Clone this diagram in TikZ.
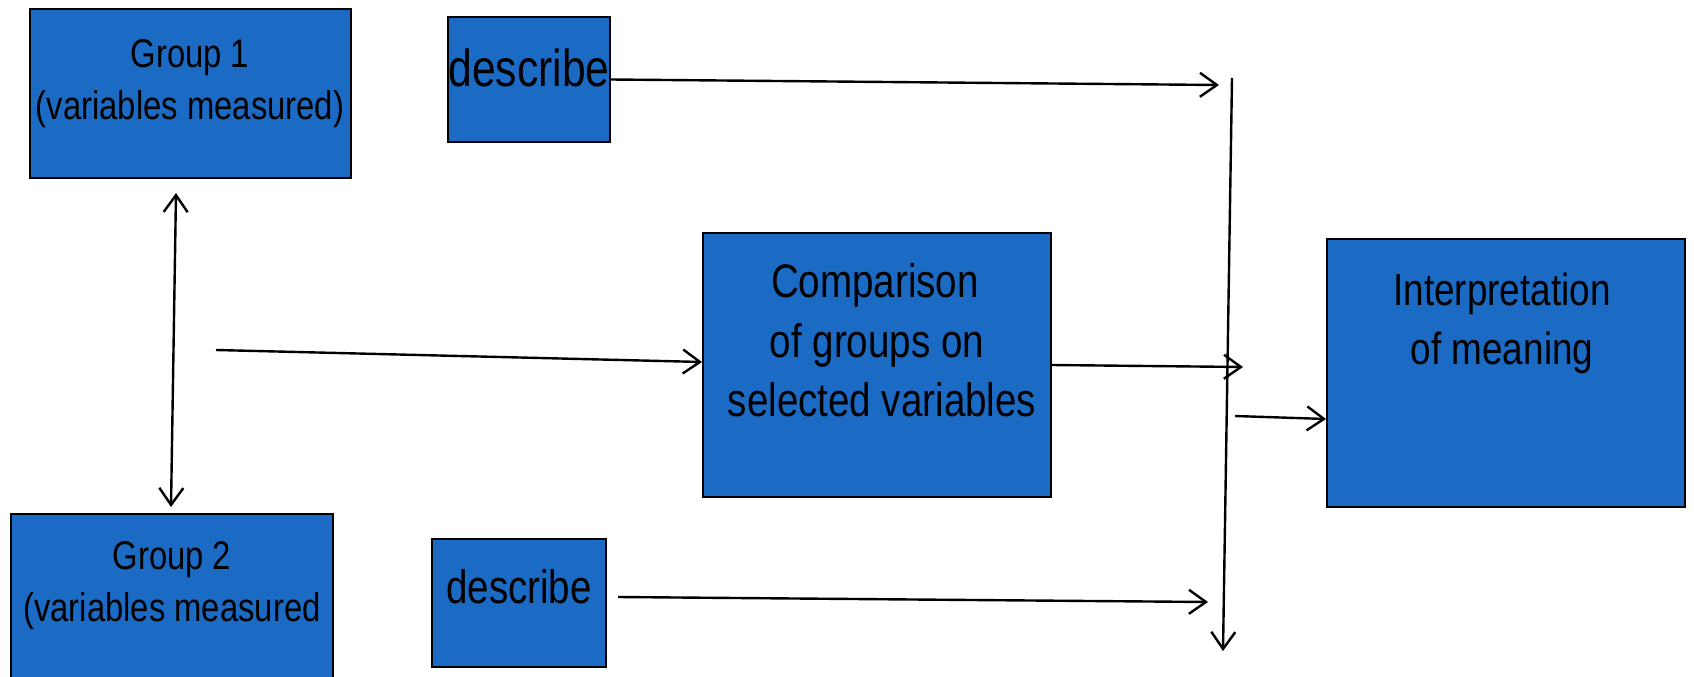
\documentclass[tikz,border=0pt]{standalone}
\usepackage{fontspec}
\setmainfont{Liberation Sans}[FakeStretch=0.82]
\usetikzlibrary{arrows.meta}
\definecolor{boxblue}{RGB}{27,106,196}
\tikzset{
  box/.style={draw=black, line width=2pt, fill=boxblue, inner sep=0pt},
  lbl/.style={font=\fontsize{#1}{#1}\selectfont, anchor=base, inner sep=0pt, text=black},
  conn/.style={draw=black, line width=2.4pt, -{Straight Barb[length=17pt,width=24pt,line width=2.4pt]}},
  bothconn/.style={draw=black, line width=2.4pt, {Straight Barb[length=17pt,width=24pt,line width=2.4pt]}-{Straight Barb[length=17pt,width=24pt,line width=2.4pt]}},
}
\begin{document}
\begin{tikzpicture}[x=1pt, y=-1pt]
\useasboundingbox (0,0) rectangle (1694,677);
\clip (0,0) rectangle (1694,677);

% boxes
\node[box, minimum width=321pt, minimum height=169pt] (g1) at (190.5,93.5) {};
\node[box, minimum width=162pt, minimum height=125pt] (d1) at (529,79.5) {};
\node[box, minimum width=348pt, minimum height=264pt] (cmp) at (877,365) {};
\node[box, minimum width=358pt, minimum height=268pt] (interp) at (1506,373) {};
\node[box, minimum width=322pt, minimum height=186pt] (g2) at (172,607) {};
\node[box, minimum width=174pt, minimum height=128pt] (d2) at (519,603) {};

% box texts
\node[lbl=40] (g1a) at (190,67) {Group 1};
\node[lbl=40] (g1b) at (190,119) {(variables measured)};
\node[lbl=52] (d1t) at (529,86) {describe};
\node[lbl=47] (cmpa) at (875,297) {Comparison};
\node[lbl=47] (cmpb) at (877,357) {of groups on};
\node[lbl=47] (cmpc) at (882,416) {selected variables};
\node[lbl=45] (inta) at (1502,305) {Interpretation};
\node[lbl=45] (intb) at (1502,364) {of meaning};
\node[lbl=40] (g2a) at (172,569) {Group 2};
\node[lbl=40] (g2b) at (172,621) {(variables measured};
\node[lbl=47] (d2t) at (519,603) {describe};

% free ends of connectors
\coordinate (srcL) at (216,350);
\coordinate (d1end) at (1219,85);
\coordinate (busTop) at (1232,78);
\coordinate (busBot) at (1223,651);
\coordinate (cmpOut) at (1243,367);
\coordinate (busOut) at (1235,416);
\coordinate (d2end) at (1208,602);

% connectors
\draw[bothconn] ([shift={(-14.5pt,-14pt)}]g1.south) -- ([shift={(-1pt,6pt)}]g2.north);
\draw[conn] (srcL) -- ([yshift=3pt]cmp.west);
\draw[conn] (d1.east) -- (d1end);
\draw[conn] (busTop) -- (busBot);
\draw[conn] (cmp.east) -- (cmpOut);
\draw[conn] (busOut) -- ([yshift=-46pt]interp.west);
\draw[conn] ([shift={(11pt,6pt)}]d2.east) -- (d2end);
\end{tikzpicture}
\end{document}
